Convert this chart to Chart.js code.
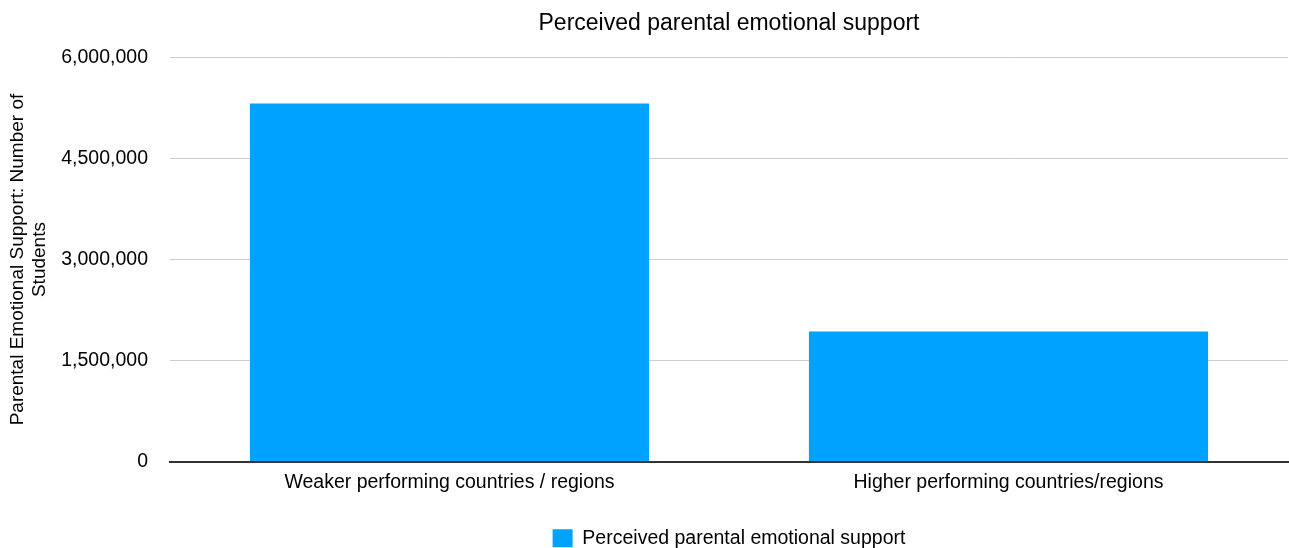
<!DOCTYPE html>
<html>
<head>
<meta charset="utf-8">
<script src="https://cdn.jsdelivr.net/npm/chart.js@4/dist/chart.umd.min.js"></script>
<style>
  html, body { margin: 0; padding: 0; background: #fff; }
  #chart { display: block; }
</style>
</head>
<body>
<canvas id="chart" width="1289" height="548"></canvas>
<script>
const categories = ['Weaker performing countries / regions', 'Higher performing countries/regions'];
const supportValues = [5318000, 1930000];
const seriesName = 'Perceived parental emotional support';
const yTicks = [0, 1500000, 3000000, 4500000, 6000000];

const font = 'Liberation Sans, Arial, Helvetica, sans-serif';

const ctx = document.getElementById('chart').getContext('2d');
new Chart(ctx, {
    type: 'bar',
    data: {
        labels: categories,
        datasets: [{
            label: seriesName,
            data: supportValues,
            backgroundColor: '#00a2ff',
            borderWidth: 0,
            barPercentage: 1,
            categoryPercentage: 0.714
        }]
    },
    options: {
        responsive: false,
        animation: false,
        layout: { padding: { top: 9, right: 1, left: 6, bottom: -10 } },
        plugins: {
            title: {
                display: true,
                fullSize: false,
                text: 'Perceived parental emotional support',
                color: '#000',
                font: { family: font, size: 23, weight: 'normal' },
                padding: { top: 1, bottom: 20 }
            },
            legend: {
                position: 'bottom',
                fullSize: false,
                labels: {
                    color: '#000',
                    font: { family: font, size: 19.5 },
                    boxWidth: 20,
                    boxHeight: 18,
                    padding: 2
                }
            },
            tooltip: { enabled: false }
        },
        scales: {
            x: {
                grid: { display: false, drawTicks: false },
                border: { color: '#333', width: 2 },
                ticks: {
                    color: '#000',
                    font: { family: font, size: 19.5 },
                    padding: 9
                },
                afterFit: axis => { axis.height = 65; }
            },
            y: {
                min: 0,
                max: 6000000,
                afterBuildTicks: axis => { axis.ticks = yTicks.map(v => ({ value: v })); },
                grid: { color: '#cccccc', drawTicks: false },
                border: { display: false },
                ticks: {
                    color: '#000',
                    font: { family: font, size: 19.5 },
                    padding: 22,
                    callback: v => v.toLocaleString('en-US')
                },
                title: {
                    display: true,
                    text: ['Parental Emotional Support: Number of', 'Students'],
                    color: '#000',
                    font: { family: font, size: 19 },
                    padding: { top: 0, bottom: 8 }
                },
                afterFit: axis => { axis.width = 164; }
            }
        }
    }
});
</script>
</body>
</html>
